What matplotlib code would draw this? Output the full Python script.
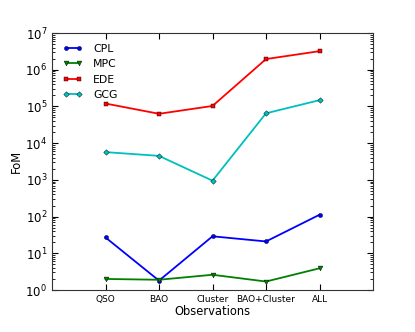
import matplotlib
matplotlib.use("Agg")
import matplotlib.pyplot as plt

# data
labels = ["QSO", "BAO", "Cluster", "BAO+Cluster", "ALL"]
cpl = [27, 1.8, 29, 21, 112]
mpc = [2.0, 1.9, 2.6, 1.7, 3.9]
ede = [1.2e5, 6.3e4, 1.03e5, 1.95e6, 3.2e6]
gcg = [5.7e3, 4.5e3, 950, 6.5e4, 1.48e5]

x = range(1, len(labels) + 1)

fig = plt.figure(figsize=(4.15, 3.32), dpi=100)
ax = fig.add_axes([52 / 415, 42 / 332, 321 / 415, 257 / 332])

ax.plot(x, cpl, "b-o", lw=1.3, ms=3, mec="k", mew=0.3, label="CPL")
ax.plot(x, mpc, "g-v", lw=1.3, ms=3.5, mec="k", mew=0.3, label="MPC")
ax.plot(x, ede, "r-s", lw=1.3, ms=3, mec="k", mew=0.3, label="EDE")
ax.plot(x, gcg, "c-D", lw=1.3, ms=2.8, mec="k", mew=0.3, label="GCG")

ax.set_yscale("log")
ax.set_yticks([10.0 ** k for k in range(8)])
ax.set_ylim(1, 1e7)
ax.set_xlim(0, 6)
ax.set_xticks(list(x))
ax.set_xticklabels(labels)

ax.tick_params(which="both", direction="in", top=True, right=True, labelsize=6.5)
ax.tick_params(axis="y", labelsize=8.5)
ax.tick_params(which="major", length=4)
ax.tick_params(which="minor", length=2)
for s in ax.spines.values():
    s.set_color("0.2")

ax.set_xlabel("Observations", fontsize=8.3, labelpad=1)
ax.set_ylabel("FoM", fontsize=8.3, labelpad=2)

ax.legend(loc="upper left", frameon=False, fontsize=7.8, numpoints=2,
          handlelength=1.8, handletextpad=1.0, labelspacing=0.5,
          borderaxespad=0.6)

fig.savefig("out.png", dpi=100)
